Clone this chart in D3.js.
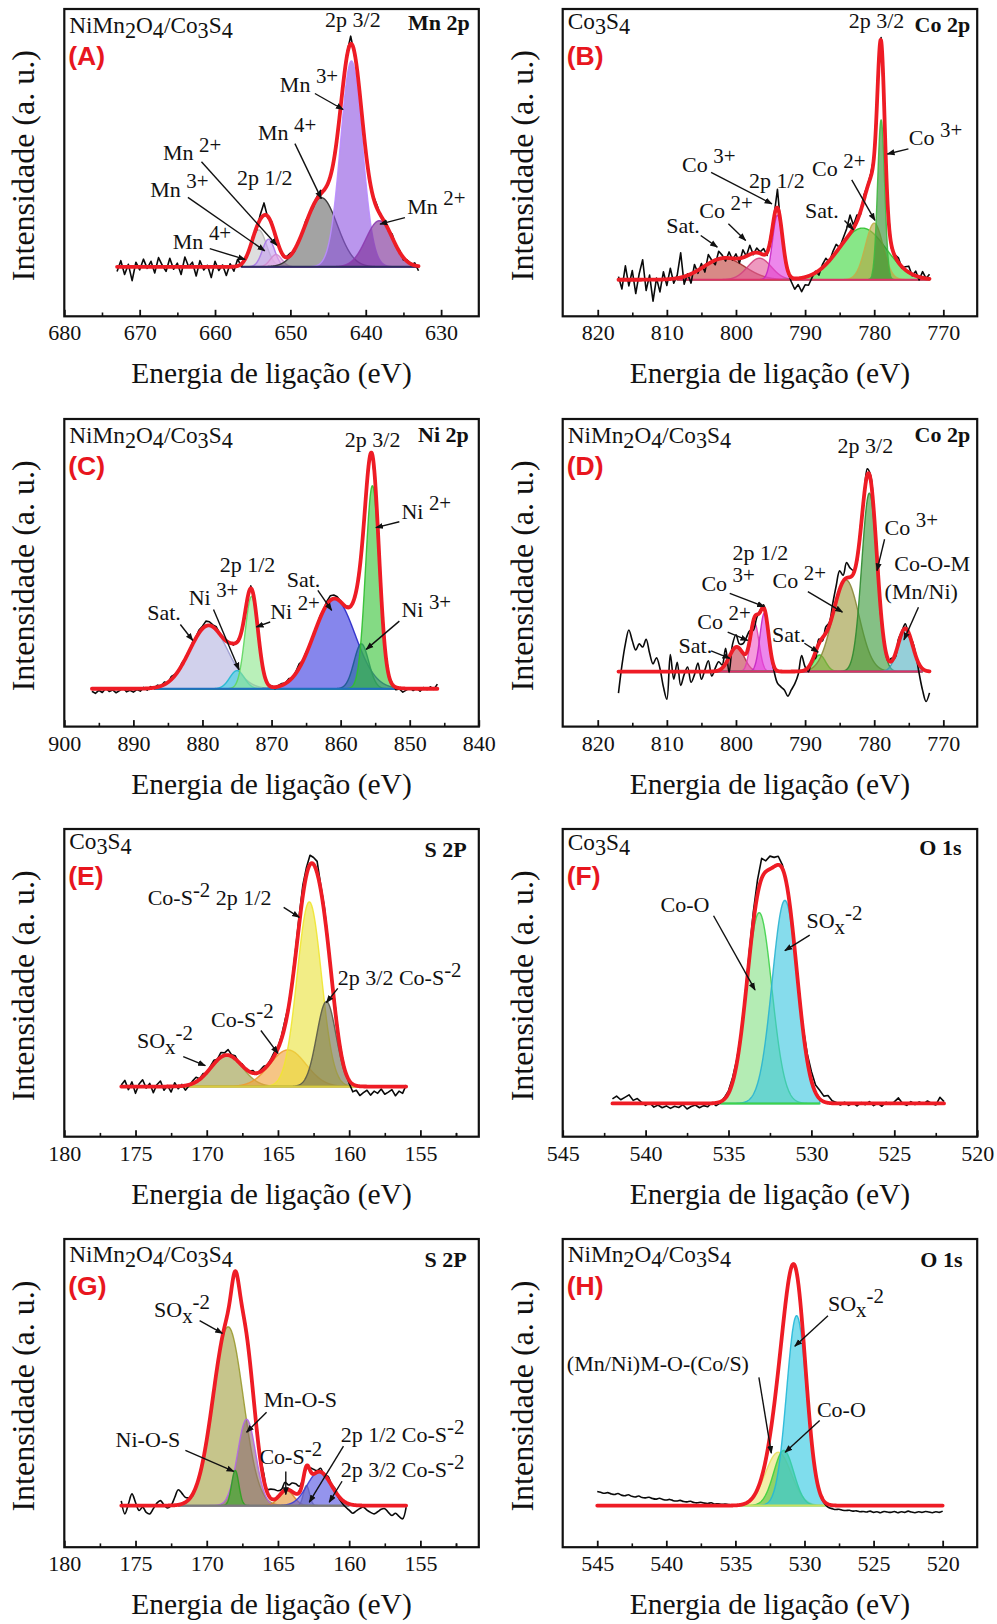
<!DOCTYPE html>
<html>
<head>
<meta charset="utf-8">
<script src="https://cdn.jsdelivr.net/npm/d3@7"></script>
<style>
  body { margin: 0; background: #fff; }
  svg text { fill: #111; }
</style>
</head>
<body>
<svg id="fig" width="997" height="1624"></svg>
<script>
// ---------------------------------------------------------------
// XPS high-resolution spectra with peak deconvolution.
// Peaks: [assignment, centre (eV), height (a.u.), FWHM (eV)].
// Scan: [first eV, last eV, step]; residuals = measured - fit.
// ---------------------------------------------------------------

// (A) Mn 2p — NiMn2O4/Co3S4
const mnTicks = [680, 670, 660, 650, 640, 630];
const mnScan = [673, 633, 0.5];
const mnBase = 16.1;
const mnPeaks = [
  ["Mn4+ 2p1/2", 654.2, 12, 2.4],
  ["Mn3+ 2p1/2", 652.9, 9, 1.9],
  ["Mn2+ 2p1/2", 651.9, 4, 1.8],
  ["Mn4+ 2p3/2", 645.9, 22.5, 5.0],
  ["Mn3+ 2p3/2", 641.9, 67, 3.4],
  ["Mn2+ 2p3/2", 638.2, 15, 4.2]
];
const mnResid = [-1.5,2.0,-2.5,0.8,-4.5,1.5,-1.0,2.5,-0.5,1.8, -2.0,3.0,0.5,-1.5,2.8,-0.8,1.2,-2.5,3.2,0.0,
  1.5,-3.0,2.0,-1.0,0.5,-3.5,1.8,-1.2,0.6,-2.8, 1.0,-1.5,2.2,-0.8,0.5,-0.6,0.8,-1.0,1.5,4.0,
  -0.5,0.7,-0.8,0.4,-0.5,0.3,0.8,-0.6,0.5,-0.4, 0.9,0.2,-0.7,0.6,1.2,-0.5,0.4,-0.3,0.8,-0.6,
  0.5,1.0,2.5,-0.8,0.6,-0.5,0.7,-0.9,0.4,1.0, -0.6,0.5,-0.4,1.1,-0.5,0.6,-0.8,0.5,-0.3,0.8, -1.5];

// (B) Co 2p — Co3S4
const coTicks = [820, 810, 800, 790, 780, 770];
const coScan = [817, 772, 0.5];
const coBase = 11.9;
const coPeaks = [
  ["Sat. 2p1/2", 801.7, 7, 7],
  ["Co2+ 2p1/2", 796.6, 7, 4],
  ["Co3+ 2p1/2", 794.0, 21, 1.7],
  ["Sat. 2p3/2", 781.7, 16.8, 8],
  ["Co2+ 2p3/2", 780.0, 18.4, 3],
  ["Co3+ 2p3/2", 779.0, 52, 1.2]
];
const coResid = [1.0,-3.0,4.5,-2.0,3.0,-4.5,2.0,6.5,-3.5,1.5, -7.0,0.5,-4.0,2.5,-2.0,3.5,-1.5,1.0,8.0,-2.5,
  0.5,-3.0,2.5,-1.0,1.5,-2.0,3.0,0.5,-1.5,2.5, 1.0,-1.0,2.0,-0.5,1.5,-1.5,2.5,0.0,3.0,-0.5,
  1.5,0.5,2.0,-1.0,1.0,0.5,6.0,-1.0,0.5,-0.5, -1.5,-3.5,-2.0,-4.5,-2.5,-3.0,-1.0,0.5,-1.5,1.0,
  2.0,-0.5,1.5,2.5,0.0,1.5,3.0,6.0,1.0,2.0, -1.0,1.5,0.5,1.0,-0.5,0.5,1.0,-0.5,0.5,-1.0,
  0.5,1.5,-0.5,1.0,2.0,-0.5,1.5,-1.0,2.0,0.0, 1.5];

// (C) Ni 2p — NiMn2O4/Co3S4
const niTicks = [900, 890, 880, 870, 860, 850, 840];
const niScan = [896, 846, 0.5];
const niBase = 12.3;
const niPeaks = [
  ["Sat. 2p1/2", 879.1, 20.6, 6.5],
  ["Ni3+ 2p1/2", 875.0, 5.9, 2.5],
  ["Ni2+ 2p1/2", 872.9, 30, 2.2],
  ["Sat. 2p3/2", 860.9, 29.3, 7],
  ["Ni3+ 2p3/2", 857.0, 14.6, 2.5],
  ["Ni2+ 2p3/2", 855.4, 66, 2.3]
];
const niResid = [-0.8,-1.5,-0.5,-1.2,0.2,-0.9,-0.4,-1.3,-0.6,0.3, -1.0,-0.5,-1.1,-0.3,-0.8,0.4,-0.6,0.5,-0.2,0.6,
  0.0,0.8,-0.3,1.0,0.4,-0.2,0.7,0.2,-0.4,0.6, 0.3,1.0,0.8,1.6,1.2,0.6,1.0,0.2,-0.3,0.4,
  0.0,-0.5,0.3,-0.2,0.5,0.2,0.8,-0.3,0.2,-0.4, 0.3,-0.2,0.4,-0.5,0.3,0.6,0.2,0.8,-0.2,0.5,
  1.4,0.2,0.6,-0.3,0.4,0.2,0.7,0.3,1.0,1.5, 1.2,0.8,0.3,-0.2,0.4,-0.3,0.2,-0.4,0.3,-0.2,
  0.5,0.3,-0.4,0.2,-0.3,0.4,-0.2,0.3,-0.8,-0.3, -1.2,-0.5,0.3,-0.6,0.2,-0.8,0.4,-0.3,0.6,-0.2, 1.5];

// (D) Co 2p — NiMn2O4/Co3S4
const co2Ticks = [820, 810, 800, 790, 780, 770];
const co2Scan = [817, 772, 0.5];
const co2Base = 17.9;
const co2Peaks = [
  ["Sat. 2p1/2", 799.9, 8, 2.5],
  ["Co2+ 2p1/2", 797.3, 15.7, 1.5],
  ["Co3+ 2p1/2", 795.9, 19, 1.5],
  ["Sat. 2p3/2", 787.9, 5.4, 2],
  ["Co2+ 2p3/2", 784.1, 29.8, 4.5],
  ["Co3+ 2p3/2", 780.7, 58, 2.6],
  ["Co-O-M", 775.5, 14, 2.5]
];
const co2Resid = [-7,2,9,13.5,10,7,9,8,10.5,6, 2.5,4.5,1,-5,-9,5.5,-2.5,3,-4.5,-1,
  1.5,-3.5,-1,2.8,-2.5,0.5,3.5,-1.5,1,2.8, 1,5,-5,2,4,1.5,3,5,3,-3,
  -1,0.5,1,0,-0.5,-1.5,-4,-5,-6,-8, -6,-4,-1,5,1,-1.5,0.5,-2,1.5,-1,
  2,1,3.5,5,6,2,5,3,1,-1, 1.5,0,2,1.5,-1,0.5,-1.5,0.5,-0.5,1,
  -1,1.5,0.5,1.5,-1,1,0.5,-3,-7,-10, -7];

// (E) S 2p — Co3S4
const sTicks = [180, 175, 170, 165, 160, 155];
const sScan = [176, 156, 0.25];
const sBase = 16.3;
const sPeaks = [
  ["SOx-2", 168.6, 10.2, 2.6],
  ["Co-S-2", 164.3, 11.9, 3],
  ["Co-S-2 2p1/2", 162.8, 60, 2.0],
  ["Co-S-2 2p3/2", 161.6, 27.6, 1.6]
];
const sResid = [0.5,2.0,-1.0,1.5,-2.2,0.8,2.2,-0.5,1.0,-2.0, 0.6,1.8,-1.2,0.3,-1.8,1.2,-0.8,0.5,-1.5,-0.3,
  0.8,1.5,0.2,0.9,-0.4,0.6,1.2,0.3,1.5,0.8, 1.8,0.5,1.0,-0.2,0.6,-0.3,0.2,0.8,-0.4,0.5,
  1.0,0.2,0.7,1.2,0.5,1.0,1.8,0.6,1.2,2.0, 2.8,3.5,2.5,3.0,2.2,3.8,1.5,2.0,1.2,0.8,
  1.5,0.5,0.8,0.0,-1.0,-2.5,-1.5,-3.0,-2.0,-1.2, -2.8,-1.5,-2.2,-0.8,-2.5,-1.8,-1.0,-3.0,-1.5,-2.2, 0.5];

// (F) O 1s — Co3S4
const oTicks = [545, 540, 535, 530, 525, 520];
const oScan = [542, 522, 0.25];
const oBase = 10.8;
const oPeaks = [
  ["Co-O", 533.15, 62, 1.8],
  ["SOx-2", 531.6, 66, 1.8]
];
const oResid = [1.5,2.4,1.2,2.0,2.8,1.0,1.6,0.4,-0.6,0.2, -1.2,-0.5,-1.4,-0.8,-1.6,-0.9,-1.3,-0.4,-1.8,-1.0,
  -0.5,-1.4,-0.7,-1.1,0.2,-0.9,-0.4,0.5,0.8,1.5, 1.2,0.5,1.0,2.2,3.5,4.8,6.5,3.5,4.2,3.0,
  2.8,1.2,0.5,0.8,0.2,0.5,1.0,2.2,3.0,2.5, 2.8,1.8,2.4,0.8,0.3,-0.5,0.4,-0.6,0.2,-0.8,
  0.3,-0.4,0.6,-0.7,0.1,-0.9,0.4,-0.3,0.5,1.8, 0.0,-0.6,0.6,-0.4,0.5,-0.2,0.8,0.0,-0.5,2.0, 0.6];

// (G) S 2p — NiMn2O4/Co3S4
const s2Ticks = [180, 175, 170, 165, 160, 155];
const s2Scan = [176, 156, 0.25];
const s2Base = 13.5;
const s2Peaks = [
  ["SOx-2", 168.5, 58, 2.5],
  ["Mn-O-S", 167.2, 28, 1.5],
  ["Ni-O-S", 168.0, 11.4, 0.6],
  ["Co-S-2", 164.4, 4.9, 1.2],
  ["2p1/2 Co-S-2", 163.0, 6.5, 0.5],
  ["2p3/2 Co-S-2", 162.1, 11, 2.0]
];
const s2Resid = [1.5,-2.7,0.5,3.8,1.0,-1.6,-0.5,-2.2,-2.7,-1.0, 0.8,1.6,0.2,-0.8,0.0,2.5,4.9,3.5,1.6,0.5,
  -0.5,0.3,-0.2,0.5,0.0,0.2,-0.3,0.4,0.1,-0.2, 0.3,0.0,0.2,-0.4,0.3,0.1,-0.2,0.3,0.5,1.0,
  2.0,1.0,3.0,3.2,2.0,1.2,2.5,1.5,2.8,3.2, 2.0,0.5,-1.0,0.8,1.5,0.5,1.2,-0.5,1.0,0.3,
  0.8,-0.5,-1.0,-1.5,-2.0,-2.7,-1.8,-1.0,-0.5,-1.5, -2.2,-2.7,-2.0,-1.2,-1.0,-2.2,-3.2,-2.5,-3.5,-4.3, -0.5];

// (H) O 1s — NiMn2O4/Co3S4
const o2Ticks = [545, 540, 535, 530, 525, 520];
const o2Scan = [545, 520, 0.25];
const o2Base = 13.5;
const o2Peaks = [
  ["(Mn/Ni)M-O-(Co/S)", 531.9, 17.3, 2.2],
  ["Co-O", 531.5, 17.9, 1.7],
  ["SOx-2", 530.57, 61.6, 1.7]
];
const o2Resid = [4.6,4.3,4.0,4.2,3.8,3.6,3.9,3.4,3.2,3.5, 3.0,2.8,3.1,2.6,2.5,2.7,2.3,2.1,2.4,2.0,
  1.8,2.0,1.6,1.5,1.7,1.3,1.2,1.4,1.0,0.9, 1.1,0.8,0.7,0.9,0.5,0.6,0.4,0.5,0.3,0.2,
  0.1,0.0,0.1,-0.1,0.0,0.1,0.0,-0.1,0.0,0.1, 0.0,-0.1,0.0,0.1,0.0,0.0,-0.1,0.0,0.1,0.0,
  0.0,-0.1,0.0,-0.1,-0.2,-0.5,-0.7,-1.0,-1.1,-1.3, -1.2,-1.5,-1.6,-1.5,-1.8,-1.7,-2.0,-1.9,-2.1,-1.8,
  -2.2,-2.0,-2.3,-1.9,-2.1,-2.2,-1.9,-2.3,-2.0,-2.2, -1.8,-2.1,-2.3,-2.0,-2.2,-1.9,-2.1,-2.3,-2.0,-2.2, -1.8];

// ---------------- annotation layout (eV, a.u.) ----------------
// [text, x, y, arrowFromX, arrowFromY, arrowToX, arrowToY]
const notesA = [
  ["2p 3/2", 645.4, 94.2],
  ["Mn ^{3+}", 651.4, 73.1, 646.75, 72.5, 643.0, 67.3],
  ["Mn ^{4+}", 654.3, 57.3, 649.4, 56.2, 645.9, 38.3],
  ["2p 1/2", 657.1, 42.7],
  ["Mn ^{2+}", 666.9, 50.8, 661.8, 50.3, 651.8, 23.1],
  ["Mn ^{3+}", 668.6, 38.9, 663.6, 38.7, 653.4, 21.3],
  ["Mn ^{4+}", 665.6, 22.0, 660.7, 22.0, 656.0, 18.5],
  ["Mn ^{2+}", 634.5, 33.4, 634.8, 32.1, 638.1, 30.0]
];
const notesB = [
  ["2p 3/2", 783.7, 93.7],
  ["Co ^{3+}", 775.0, 55.6, 775.05, 54.5, 778.1, 52.8],
  ["Co ^{2+}", 789.0, 45.5, 783.25, 44.4, 779.9, 31.2],
  ["Sat.", 790.0, 32.0, 784.3, 31.2, 783.0, 28.2],
  ["2p 1/2", 798.1, 41.7],
  ["Co ^{3+}", 807.8, 47.1, 803.6, 46.8, 794.8, 36.6],
  ["Co ^{2+}", 805.3, 32.0, 801.1, 30.1, 798.6, 24.7],
  ["Sat.", 810.1, 27.1, 805.1, 26.3, 802.7, 22.5]
];
const notesC = [
  ["2p 3/2", 859.4, 91.0],
  ["Ni ^{2+}", 851.2, 67.6, 851.5, 66.6, 854.9, 64.7],
  ["Ni ^{3+}", 851.2, 35.6, 851.5, 34.3, 856.3, 25.1],
  ["Sat.", 867.8, 45.4, 863.3, 44.3, 861.3, 37.8],
  ["Ni ^{2+}", 870.2, 35.1, 870.2, 34.0, 872.2, 32.4],
  ["2p 1/2", 877.5, 50.3],
  ["Ni ^{3+}", 882.0, 39.4, 878.4, 38.1, 874.7, 18.5],
  ["Sat.", 888.0, 34.5, 883.2, 33.2, 881.4, 28.0]
];
const notesD = [
  ["2p 3/2", 785.3, 89.1],
  ["Co ^{3+}", 778.5, 62.3, 778.5, 60.9, 779.6, 50.7],
  ["Co-O-M", 777.1, 50.7],
  ["(Mn/Ni)", 778.5, 41.4, 773.6, 38.8, 775.7, 28.2],
  ["Co ^{2+}", 794.7, 45.0, 789.6, 43.9, 784.6, 37.2],
  ["Sat.", 794.8, 27.4, 790.1, 27.1, 788.1, 24.2],
  ["2p 1/2", 800.5, 54.3],
  ["Co ^{3+}", 805.0, 44.2, 800.9, 43.3, 795.9, 39.0],
  ["Co ^{2+}", 805.6, 31.8, 801.2, 30.7, 798.3, 28.0],
  ["Sat.", 808.3, 23.8, 803.6, 24.6, 800.9, 22.2]
];
const notesE = [
  ["Co-S^{-2} 2p 1/2", 174.15, 75.3, 164.6, 74.5, 163.5, 71.3],
  ["2p 3/2 Co-S^{-2}", 160.8, 49.3, 160.8, 48.2, 161.6, 43.6],
  ["Co-S^{-2}", 169.7, 35.8, 166.2, 34.5, 165.0, 27.1],
  ["SO_{x}^{-2}", 174.9, 28.7, 171.65, 26.0, 170.1, 23.1]
];
const notesF = [
  ["Co-O", 539.1, 73.1, 535.9, 71.8, 533.4, 47.7],
  ["SO_{x}^{-2}", 530.3, 67.7, 530.1, 65.5, 531.6, 60.5]
];
const notesG = [
  ["SO_{x}^{-2}", 173.7, 74.6, 170.5, 73.5, 168.9, 69.4],
  ["Mn-O-S", 166.0, 45.4, 165.8, 43.8, 167.2, 37.3],
  ["Ni-O-S", 176.4, 32.4, 171.5, 31.4, 168.1, 24.6],
  ["Co-S^{-2}", 166.3, 27.0, 164.45, 24.6, 164.45, 17.1],
  ["2p 1/2 Co-S^{-2}", 160.6, 34.0, 160.4, 32.8, 162.8, 14.6],
  ["2p 3/2 Co-S^{-2}", 160.6, 22.7, 160.5, 21.4, 161.4, 14.6]
];
const notesH = [
  ["SO_{x}^{-2}", 528.3, 76.5, 528.3, 75.1, 530.7, 65.2],
  ["(Mn/Ni)M-O-(Co/S)", 547.2, 57.3, 533.3, 55.1, 532.4, 30.5],
  ["Co-O", 529.1, 42.2, 528.9, 41.1, 531.4, 30.8]
];

// ---------------- panel styling / placement ----------------
const SERIF = "'Liberation Serif', 'Times New Roman', Times, serif";
const SANS = "'Liberation Sans', Arial, Helvetica, sans-serif";
const COLS = [64.3, 562.7];
const ROWS = [9, 419, 829, 1239];
const FW = 414.5;
const FH = [307.3, 307.6, 307.7, 308.2];

const hdrNM = "NiMn_{2}O_{4}/Co_{3}S_{4}";
const hdrCS = "Co_{3}S_{4}";

const panels = [
  { id: "A", col: 0, row: 0, domain: [680, 625], ticks: mnTicks, minor: 5, header: hdrNM, hdy: 24,
    title: "Mn 2p", tdx: 9, tdy: 21, scan: mnScan, base: mnBase, peaks: mnPeaks, resid: mnResid,
    span: [656.5, 633], notes: notesA, smooth: false, baseColor: "#2d2d5e",
    fills: ["#c9c9c9", "#c59ff0", "#e7a9e4", "#6a6a6a", "#8f55e2", "#7a2c96"],
    strokes: ["#b5b5b5", "#a877e8", "#d08ad0", "#2e2e2e", "#b98cff", "#8d3bb0"] },
  { id: "B", col: 1, row: 0, domain: [825.07, 765.1], ticks: coTicks, minor: 5, header: hdrCS, hdy: 20,
    title: "Co 2p", tdx: 7, tdy: 23, scan: coScan, base: coBase, peaks: coPeaks, resid: coResid,
    span: [808.5, 772], notes: notesB, smooth: false, baseColor: "#e0306a",
    fills: ["#c0403c", "#e45a98", "#e23ee0", "#3fd83f", "#b5a640", "#2f8e2f"],
    strokes: ["#a52e2e", "#d2447f", "#c526c4", "#2fc02f", "#c2b04a", "#40b840"] },
  { id: "C", col: 0, row: 1, domain: [900, 840], ticks: niTicks, minor: 5, header: hdrNM, hdy: 24,
    title: "Ni 2p", tdx: 10, tdy: 23, scan: niScan, base: niBase, peaks: niPeaks, resid: niResid,
    span: [887, 852], notes: notesC, smooth: false, baseColor: "#1f6fc0",
    fills: ["#b4b4e0", "#3ccfe2", "#8ee68e", "#3b3be0", "#2a6aa0", "#39c439"],
    strokes: ["#9a9ad0", "#20b8d0", "#5fd65f", "#2727c8", "#1d5a90", "#2fbf2f"] },
  { id: "D", col: 1, row: 1, domain: [825.07, 765.1], ticks: co2Ticks, minor: 5, header: hdrNM, hdy: 24,
    title: "Co 2p", tdx: 7, tdy: 23, scan: co2Scan, base: co2Base, peaks: co2Peaks, resid: co2Resid,
    span: [803.5, 773], notes: notesD, smooth: true, baseColor: "#e0306a",
    fills: ["#c43c4c", "#f05cc8", "#e03ee0", "#3ee03e", "#9c9a3e", "#3a9a3a", "#54b2c2"],
    strokes: ["#a82e3c", "#e040b0", "#c526c4", "#28cc28", "#8a883a", "#2f8a2f", "#3f9cb0"] },
  { id: "E", col: 0, row: 2, domain: [180, 150.9], ticks: sTicks, minor: 2.5, header: hdrCS, hdy: 20,
    title: "S 2P", tdx: 12, tdy: 28, scan: sScan, base: sBase, peaks: sPeaks, resid: sResid,
    span: [172, 159.5], notes: notesE, smooth: false, baseColor: "#d8cc40",
    fills: ["#9c9c48", "#f0a23a", "#eae23c", "#6e6e50"],
    strokes: ["#a0a040", "#f09a30", "#f0e630", "#5a5a48"] },
  { id: "F", col: 1, row: 2, domain: [545, 520], ticks: oTicks, minor: 2.5, header: hdrCS, hdy: 21,
    title: "O 1s", tdx: 15.7, tdy: 26, scan: oScan, base: oBase, peaks: oPeaks, resid: oResid,
    span: [535.5, 529.5], notes: notesF, smooth: false, baseColor: "#3fd24a",
    fills: ["#86e086", "#3cc6e0"],
    strokes: ["#3fd24a", "#2ab4d0"] },
  { id: "G", col: 0, row: 3, domain: [180, 150.9], ticks: s2Ticks, minor: 2.5, header: hdrNM, hdy: 23,
    title: "S 2P", tdx: 12, tdy: 28.3, scan: s2Scan, base: s2Base, peaks: s2Peaks, resid: s2Resid,
    span: [172, 160], notes: notesG, smooth: true, baseColor: "#7a7a7a",
    fills: ["#a3a244", "#8e6e72", "#3ab02a", "#e59636", "#9a9a9a", "#5252e2"],
    strokes: ["#9a9a30", "#b266e6", "#2ea020", "#d88428", "#808080", "#3c3cd0"] },
  { id: "H", col: 1, row: 3, domain: [547.5, 517.5], ticks: o2Ticks, minor: 2.5, header: hdrNM, hdy: 23,
    title: "O 1s", tdx: 14.7, tdy: 28.3, scan: o2Scan, base: o2Base, peaks: o2Peaks, resid: o2Resid,
    span: [535, 528.5], notes: notesH, smooth: true, baseColor: "#c8e060",
    fills: ["#ece476", "#52c23e", "#30c8e2"],
    strokes: ["#e8e060", "#3cd23c", "#22b8d8"] }
];

// ---------------- drawing ----------------
const svg = d3.select("#fig");
svg.append("rect").attr("width", 997).attr("height", 1624).attr("fill", "#fff");
const defs = svg.append("defs");
defs.append("marker")
  .attr("id", "arrowhead").attr("viewBox", "0 0 10 10")
  .attr("refX", 9).attr("refY", 5)
  .attr("markerWidth", 8).attr("markerHeight", 8)
  .attr("markerUnits", "userSpaceOnUse").attr("orient", "auto")
  .append("path").attr("d", "M0,1.2L10,5L0,8.8z").attr("fill", "#111");

// writes text with _{sub} and ^{sup} runs as tspans
function richText(sel, str, size, opts = {}) {
  const subDy = (opts.sub ?? 0.25) * size, supDy = -(opts.sup ?? 0.4) * size;
  const scale = opts.scale ?? 0.92;
  const re = /([_^])\{([^}]*)\}|([^_^]+)/g;
  let m, cur = 0;
  while ((m = re.exec(str))) {
    if (m[3] !== undefined) {
      const t = sel.append("tspan").text(m[3]).attr("font-size", size);
      if (cur !== 0) { t.attr("dy", -cur); cur = 0; }
    } else {
      const target = m[1] === "_" ? subDy : supDy;
      sel.append("tspan").text(m[2]).attr("font-size", size * scale).attr("dy", target - cur);
      cur = target;
    }
  }
}

const fitFn = (p) => {
  const g = (pk, e) => pk[2] * Math.exp(-4 * Math.LN2 * (e - pk[1]) ** 2 / (pk[3] ** 2));
  return { comp: g, total: e => p.base + d3.sum(p.peaks, pk => g(pk, e)) };
};

panels.forEach(p => {
  const x0 = COLS[p.col], y0 = ROWS[p.row], h = FH[p.row];
  const x = d3.scaleLinear().domain(p.domain).range([x0, x0 + FW]);
  const y = d3.scaleLinear().domain([0, 100]).range([y0 + h, y0]);
  const fit = fitFn(p);
  const g = svg.append("g").attr("class", "panel-" + p.id).style("font-family", SERIF);

  defs.append("clipPath").attr("id", "clip" + p.id)
    .append("rect").attr("x", x0).attr("y", y0).attr("width", FW).attr("height", h);
  const plot = g.append("g").attr("clip-path", `url(#clip${p.id})`);

  // fitted components
  const cgrid = d3.range(p.span[0], p.span[1] - 1e-9, -0.02);
  p.peaks.forEach((pk, i) => {
    const area = d3.area()
      .x(e => x(e)).y0(y(p.base)).y1(e => y(p.base + fit.comp(pk, e)));
    plot.append("path").datum(cgrid).attr("d", area)
      .attr("fill", p.fills[i]).attr("fill-opacity", 0.62)
      .attr("stroke", p.strokes[i]).attr("stroke-width", 1.4).attr("stroke-opacity", 0.9);
  });
  plot.append("line")
    .attr("x1", x(p.span[0])).attr("x2", x(p.span[1]))
    .attr("y1", y(p.base)).attr("y2", y(p.base))
    .attr("stroke", p.baseColor).attr("stroke-width", 2);

  // measured spectrum
  const meas = p.resid.map((r, i) => {
    const e = p.scan[0] - i * p.scan[2];
    return [e, fit.total(e) + r];
  });
  plot.append("path").datum(meas)
    .attr("d", d3.line().x(d => x(d[0])).y(d => y(d[1]))
      .curve(p.smooth ? d3.curveCatmullRom : d3.curveLinear))
    .attr("fill", "none").attr("stroke", "#0a0a0a").attr("stroke-width", 1.6)
    .attr("stroke-linejoin", "round");

  // envelope of the fit
  const egrid = d3.range(p.scan[0], p.scan[1] - 1e-9, -0.02).concat([p.scan[1]]);
  plot.append("path").datum(egrid)
    .attr("d", d3.line().x(e => x(e)).y(e => y(fit.total(e))))
    .attr("fill", "none").attr("stroke", "#ee1c25").attr("stroke-width", 3.8)
    .attr("stroke-linejoin", "round").attr("stroke-linecap", "round");

  // bottom axis: inward major and minor ticks
  const xb = y0 + h;
  const ax = g.append("g").attr("transform", `translate(0,${xb})`)
    .call(d3.axisBottom(x).tickValues(p.ticks).tickSizeInner(-6.5).tickSizeOuter(0)
      .tickPadding(8.5).tickFormat(d3.format("d")));
  ax.select(".domain").remove();
  ax.selectAll("line").attr("stroke", "#111").attr("stroke-width", 1.8);
  ax.selectAll("text").attr("font-size", 22).style("font-family", SERIF).style("fill", "#111");

  const lo = Math.min(...p.domain), hi = Math.max(...p.domain);
  const minors = d3.range(p.ticks[0] - p.minor, p.ticks[p.ticks.length - 1] - p.minor * 2, -p.minor * 2)
    .concat([p.ticks[0] + p.minor, p.ticks[p.ticks.length - 1] - p.minor])
    .filter(v => v > lo + 0.3 && v < hi - 0.3);
  const am = g.append("g").attr("transform", `translate(0,${xb})`)
    .call(d3.axisBottom(x).tickValues(minors).tickSizeInner(-3.8).tickSizeOuter(0).tickFormat(""));
  am.select(".domain").remove();
  am.selectAll("line").attr("stroke", "#111").attr("stroke-width", 1.6);

  // frame
  g.append("rect").attr("x", x0).attr("y", y0).attr("width", FW).attr("height", h)
    .attr("fill", "none").attr("stroke", "#111").attr("stroke-width", 2.2);

  // axis titles
  g.append("text").attr("x", x0 + FW / 2).attr("y", xb + 67)
    .attr("text-anchor", "middle").attr("font-size", 29.5).text("Energia de ligação (eV)");
  const yx = p.col === 0 ? 23 : 522;
  g.append("text")
    .attr("transform", `translate(${yx},${y0 + h / 2 + 3}) rotate(-90)`)
    .attr("text-anchor", "middle").attr("dominant-baseline", "central")
    .attr("font-size", 32).text("Intensidade (a. u.)");

  // sample header, panel letter and core level
  const hdr = g.append("text").attr("x", x0 + 5).attr("y", y0 + p.hdy);
  richText(hdr, p.header, 23.3, { sub: 0.22, scale: 0.95 });
  g.append("text").attr("x", x0 + 4).attr("y", y0 + 55.5)
    .style("font-family", SANS).attr("font-weight", "bold")
    .attr("font-size", 26.5).style("fill", "#e8161e").text(`(${p.id})`);
  g.append("text").attr("x", x0 + FW - p.tdx).attr("y", y0 + p.tdy)
    .attr("text-anchor", "end").attr("font-weight", "bold").attr("font-size", 22).text(p.title);

  // peak annotations
  p.notes.forEach(n => {
    if (n.length > 3) {
      g.append("line")
        .attr("x1", x(n[3])).attr("y1", y(n[4])).attr("x2", x(n[5])).attr("y2", y(n[6]))
        .attr("stroke", "#111").attr("stroke-width", 1.4).attr("marker-end", "url(#arrowhead)");
    }
    const t = g.append("text").attr("x", x(n[1])).attr("y", y(n[2]));
    richText(t, n[0], 22, { sub: 0.25, sup: 0.38, scale: 0.95 });
  });
});
</script>
</body>
</html>
